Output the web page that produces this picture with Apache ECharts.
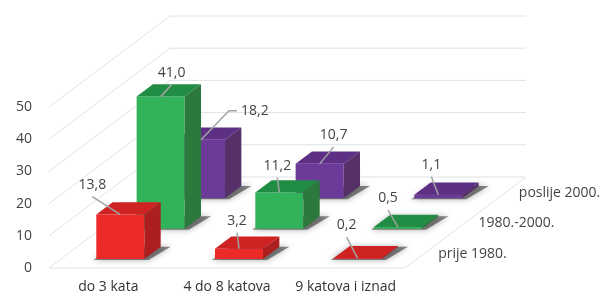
<!DOCTYPE html>
<html>
<head>
<meta charset="utf-8">
<style>html,body{margin:0;padding:0;background:#fff}#main{width:603px;height:294px}</style>
<script src="https://cdn.jsdelivr.net/npm/echarts@6/dist/echarts.min.js"></script>
</head>
<body>
<div id="main"></div>
<script>
// katnost (kategorije) i razdoblja gradnje (redovi u dubinu)
const categories = ['do 3 kata', '4 do 8 katova', '9 katova i iznad'];
const periods = ['prije 1980.', '1980.-2000.', 'poslije 2000.'];
const prije1980 = [13.8, 3.2, 0.2];
const od1980do2000 = [41.0, 11.2, 0.5];
const poslije2000 = [18.2, 10.7, 1.1];
const yTicks = [0, 10, 20, 30, 40, 50];

const rows = [prije1980, od1980do2000, poslije2000];
const colors = [
  { front: '#ec2a27', top: '#cf2323', side: '#ad1e1e' },
  { front: '#33b359', top: '#218c43', side: '#2b793d' },
  { front: '#6c3a98', top: '#5d2f85', side: '#553069' }
];
const DEPTH = [121, -91];   // dubina poda u px
const BAR_D = 0.135;        // dubina stupca (udio)
const BAR_W = 0.405;        // sirina stupca (udio kategorije)
const font = '"Open Sans", sans-serif';

// vodilice za oznake: [dx, dy, lakat] od sredine gornjeg prednjeg ruba
const leaders = [
  [[-28, -18, 0], [-2, -16, 0], [-11, -21, 0]],
  [[11, -12, 0], [-2, -15, 0], [-10, -17, 0]],
  [[28, -29, 8], [14, -17, 0], [-7, -18, 0]]
];

const chart = echarts.init(document.getElementById('main'));

function rowShift(r) {
  const d = (r + 0.5) / 3 - BAR_D / 2;
  return [d * DEPTH[0], d * DEPTH[1]];
}

function renderBar(r) {
  return function (params, api) {
    const c = api.value(0), v = api.value(1);
    const base = api.coord([c, 0]);
    const top = api.coord([c, v]);
    const w = api.size([1, 0])[0] * BAR_W;
    const s = rowShift(r);
    const bx = BAR_D * DEPTH[0], by = BAR_D * DEPTH[1];
    const x1 = base[0] - w / 2 + s[0], x2 = x1 + w;
    const yb = base[1] + s[1], yt = top[1] + s[1];
    const st = colors[r];
    const lead = leaders[r][c];
    const px = base[0] + s[0], py = yt;
    const lx = px + lead[0], ly = py + lead[1];
    const txt = v.toFixed(1).replace('.', ',');
    const children = [
      { type: 'polygon', shape: { points: [[x1 - 3, yb + 1], [x2 + 4, yb + 1], [x2 + bx + 10, yb + by], [x1 + bx, yb + by]] },
        style: { fill: 'rgba(40,40,40,0.55)', shadowBlur: 6, shadowColor: 'rgba(0,0,0,0.6)' } },
      { type: 'rect', shape: { x: x1, y: yt, width: w, height: yb - yt }, style: { fill: st.front } },
      { type: 'polygon', shape: { points: [[x1, yt], [x2, yt], [x2 + bx, yt + by], [x1 + bx, yt + by]] }, style: { fill: st.top } },
      { type: 'polygon', shape: { points: [[x2, yt], [x2 + bx, yt + by], [x2 + bx, yb + by], [x2, yb]] }, style: { fill: st.side } }
    ];
    const pts = [[px, py], [lx, ly]];
    if (lead[2]) pts.push([lx + lead[2], ly]);
    children.push({ type: 'polyline', z2: 50, shape: { points: pts }, style: { stroke: '#a3a3a3', lineWidth: 1.5, fill: null } });
    if (lead[2]) {
      children.push({ type: 'text', z2: 51, style: { text: txt, x: lx + lead[2] + 4, y: ly, align: 'left', verticalAlign: 'middle', fill: '#444', font: '14px ' + font } });
    } else {
      children.push({ type: 'text', z2: 51, style: { text: txt, x: lx, y: ly - 12, align: 'center', verticalAlign: 'middle', fill: '#444', font: '14px ' + font } });
    }
    return { type: 'group', children: children };
  };
}

function renderFrame(params, api) {
  const v = api.value(1);
  const y = api.coord([0, v])[1];
  const gx = params.coordSys.x, gw = params.coordSys.width;
  const lineStyle = { stroke: '#e2e2e2', lineWidth: 1, fill: null };
  const children = [
    { type: 'polyline', shape: { points: [[gx, y], [gx + DEPTH[0], y + DEPTH[1]], [gx + gw + DEPTH[0], y + DEPTH[1]]] }, style: lineStyle }
  ];
  if (v === 0) {
    children.push({ type: 'polyline', shape: { points: [[gx, y], [gx + gw, y], [gx + gw + DEPTH[0], y + DEPTH[1]]] }, style: lineStyle });
  }
  return { type: 'group', children: children };
}

function renderRowLabel(params, api) {
  const r = api.value(0);
  const y0 = api.coord([0, 0])[1];
  const gx = params.coordSys.x, gw = params.coordSys.width;
  const d = (r + 0.5) / 3;
  return {
    type: 'text',
    style: { text: periods[r], x: gx + gw + d * DEPTH[0] + 13, y: y0 + d * DEPTH[1] + 1, align: 'left', verticalAlign: 'middle', fill: '#444', font: '14px ' + font }
  };
}

const barSeries = [];
for (let r = rows.length - 1; r >= 0; r--) {
  barSeries.push({
    name: periods[r],
    type: 'custom',
    renderItem: renderBar(r),
    data: rows[r].map((v, i) => [i, v])
  });
}

chart.setOption({
  animation: false,
  grid: { left: 49, right: 198, top: 107, bottom: 26 },
  xAxis: {
    type: 'category',
    data: categories,
    axisLine: { show: false },
    axisTick: { show: false },
    splitLine: { show: false },
    axisLabel: { color: '#333', fontSize: 14, fontFamily: font, margin: 12, interval: 0, hideOverlap: false }
  },
  yAxis: {
    type: 'value',
    min: 0,
    max: 50,
    interval: 10,
    axisLine: { show: false },
    axisTick: { show: false },
    splitLine: { show: false },
    axisLabel: { color: '#444', fontSize: 14, fontFamily: font, margin: 17 }
  },
  series: [
    { type: 'custom', z: 1, renderItem: renderFrame, data: yTicks.map(v => [0, v]) },
    { type: 'custom', z: 1, renderItem: renderRowLabel, data: periods.map((p, i) => [i, 0]) }
  ].concat(barSeries)
});
</script>
</body>
</html>
